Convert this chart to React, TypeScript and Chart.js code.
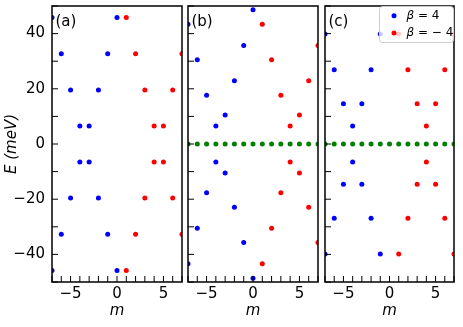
import React, { useEffect, useRef } from "react";
import { Chart, registerables } from "chart.js";
Chart.register(...registerables);

// ---------- DATA ----------
// Panel (a)
const aBlueM = [-7, -6, -5, -4, -3, -2, -1, 0, -7, -6, -5, -4, -3, -2, -1, 0];
const aBlueE = [45.8, 32.7, 19.6, 6.5, 6.5, 19.6, 32.7, 45.8, -45.8, -32.7, -19.6, -6.5, -6.5, -19.6, -32.7, -45.8];
const aRedM = [1, 2, 3, 4, 5, 6, 7, 1, 2, 3, 4, 5, 6, 7];
const aRedE = [45.8, 32.7, 19.6, 6.5, 6.5, 19.6, 32.7, -45.8, -32.7, -19.6, -6.5, -6.5, -19.6, -32.7];

// Panel (b)
const bBlueM = [-7, -6, -5, -4, -3, -2, -1, 0, -7, -6, -5, -4, -3, -2, -1, 0];
const bBlueE = [43.4, 30.5, 17.7, 6.5, 10.5, 22.9, 35.7, 48.6, -43.4, -30.5, -17.7, -6.5, -10.5, -22.9, -35.7, -48.6];
const bRedM = [1, 2, 3, 4, 5, 6, 7, 1, 2, 3, 4, 5, 6, 7];
const bRedE = [43.4, 30.5, 17.7, 6.5, 10.5, 22.9, 35.7, -43.4, -30.5, -17.7, -6.5, -10.5, -22.9, -35.7];
const bGreenM = [-7, -6, -5, -4, -3, -2, -1, 0, 1, 2, 3, 4, 5, 6, 7];
const bGreenE = [0, 0, 0, 0, 0, 0, 0, 0, 0, 0, 0, 0, 0, 0, 0];

// Panel (c)
const cBlueM = [-7, -6, -5, -4, -3, -2, -1, -7, -6, -5, -4, -3, -2, -1];
const cBlueE = [39.9, 26.9, 14.6, 6.5, 14.6, 26.9, 39.9, -39.9, -26.9, -14.6, -6.5, -14.6, -26.9, -39.9];
const cRedM = [1, 2, 3, 4, 5, 6, 7, 1, 2, 3, 4, 5, 6, 7];
const cRedE = [39.9, 26.9, 14.6, 6.5, 14.6, 26.9, 39.9, -39.9, -26.9, -14.6, -6.5, -14.6, -26.9, -39.9];
const cGreenM = [-7, -6, -5, -4, -3, -2, -1, 0, 1, 2, 3, 4, 5, 6, 7];
const cGreenE = [0, 0, 0, 0, 0, 0, 0, 0, 0, 0, 0, 0, 0, 0, 0];

const panelLabels = ["(a)", "(b)", "(c)"];
const legendLabels = ["4", "\u2212 4"];
const xTitle = "m";
const yTitle = "E (meV)";

// ---------- HELPERS ----------
const FONT = '"DejaVu Sans", sans-serif';
const BLUE = "#0000ff";
const RED = "#ff0000";
const GREEN = "#008000";

const pts = (ms: number[], es: number[]) => ms.map((m, i) => ({ x: m, y: es[i] }));
const fmt = (v: number) => (v < 0 ? "\u2212" + Math.abs(v) : String(v));

function ds(ms: number[], es: number[], color: string) {
  return {
    data: pts(ms, es),
    showLine: false,
    pointRadius: 2.5,
    pointHoverRadius: 2.5,
    pointBorderWidth: 0,
    pointBackgroundColor: color,
    pointBorderColor: color,
    clip: 0,
  };
}

function zeroPad(s: any) {
  s.paddingTop = 0;
  s.paddingBottom = 0;
  s.paddingLeft = 0;
  s.paddingRight = 0;
}

function makePlugin(label: string, withLegend: boolean) {
  return {
    id: "frame_" + label,
    afterDraw(chart: any) {
      const { ctx, chartArea: ca, scales } = chart;
      ctx.save();
      // inward ticks
      ctx.strokeStyle = "#000";
      ctx.lineWidth = 1;
      scales.x.ticks.forEach((t: any) => {
        const px = scales.x.getPixelForValue(t.value);
        ctx.beginPath();
        ctx.moveTo(px, ca.bottom);
        ctx.lineTo(px, ca.bottom - 6);
        ctx.stroke();
      });
      scales.y.ticks.forEach((t: any) => {
        const py = scales.y.getPixelForValue(t.value);
        ctx.beginPath();
        ctx.moveTo(ca.left, py);
        ctx.lineTo(ca.left + 6, py);
        ctx.stroke();
      });
      // frame
      ctx.lineWidth = 1.5;
      ctx.strokeRect(ca.left, ca.top, ca.right - ca.left, ca.bottom - ca.top);
      // panel label
      ctx.fillStyle = "#000";
      ctx.font = "15px " + FONT;
      ctx.textBaseline = "alphabetic";
      ctx.textAlign = "left";
      ctx.fillText(label, ca.left + 3.5, ca.top + 20);

      if (withLegend) {
        const w = 75, h = 37;
        const lx = ca.right - w, ly = ca.top;
        ctx.beginPath();
        if ((ctx as any).roundRect) (ctx as any).roundRect(lx + 0.5, ly + 0.5, w - 1, h - 1, 3);
        else ctx.rect(lx + 0.5, ly + 0.5, w - 1, h - 1);
        ctx.fillStyle = "rgba(255,255,255,0.8)";
        ctx.fill();
        ctx.strokeStyle = "#cccccc";
        ctx.lineWidth = 1;
        ctx.stroke();
        const rows = [ly + 9.7, ly + 27];
        const cols = [BLUE, RED];
        rows.forEach((ry, i) => {
          ctx.beginPath();
          ctx.arc(lx + 15, ry, 2.5, 0, Math.PI * 2);
          ctx.fillStyle = cols[i];
          ctx.fill();
          ctx.fillStyle = "#000";
          ctx.textBaseline = "middle";
          let tx = lx + 27.5;
          ctx.font = "italic 12px " + FONT;
          ctx.fillText("\u03b2", tx, ry);
          tx += ctx.measureText("\u03b2").width;
          ctx.font = "12px " + FONT;
          ctx.fillText(" = " + legendLabels[i], tx, ry);
        });
      }
      ctx.restore();
    },
  };
}

function makeConfig(datasets: any[], label: string, showY: boolean, yW: number, padR: number, withLegend: boolean) {
  return {
    type: "scatter",
    data: { datasets },
    options: {
      animation: false,
      responsive: false,
      maintainAspectRatio: false,
      events: [],
      layout: { padding: { top: 6, right: padR, left: 0, bottom: 0 } },
      plugins: { legend: { display: false }, tooltip: { enabled: false } },
      scales: {
        x: {
          type: "linear",
          min: -7,
          max: 7,
          ticks: {
            stepSize: 1,
            autoSkip: false,
            maxRotation: 0,
            minRotation: 0,
            padding: 3,
            color: "#000",
            font: { family: FONT, size: 15 },
            callback: (v: any) => (Number(v) % 5 === 0 ? fmt(Number(v)) : ""),
          },
          grid: { display: false, drawTicks: false },
          border: { display: false },
          title: {
            display: true,
            text: xTitle,
            color: "#000",
            font: { family: FONT, size: 15, style: "italic" },
            padding: { top: 0, bottom: 7 },
          },
          afterFit: (s: any) => {
            s.height = 45;
            zeroPad(s);
          },
        },
        y: {
          type: "linear",
          min: -50,
          max: 50,
          ticks: {
            display: showY,
            stepSize: 10,
            autoSkip: false,
            padding: 7,
            color: "#000",
            font: { family: FONT, size: 15 },
            callback: (v: any) => (Number(v) % 20 === 0 ? fmt(Number(v)) : ""),
          },
          grid: { display: false, drawTicks: false },
          border: { display: false },
          title: {
            display: showY,
            text: yTitle,
            color: "#000",
            font: { family: FONT, size: 15, style: "italic" },
            padding: { top: 3.5, bottom: 0 },
          },
          afterFit: (s: any) => {
            s.width = yW;
            zeroPad(s);
          },
        },
      },
    },
    plugins: [makePlugin(label, withLegend)],
  };
}

function Panel(props: { config: any; left: number; width: number }) {
  const ref = useRef<HTMLCanvasElement | null>(null);
  useEffect(() => {
    if (!ref.current) return;
    const chart = new Chart(ref.current, props.config);
    return () => chart.destroy();
  }, []);
  return (
    <canvas
      ref={ref}
      width={props.width}
      height={327}
      style={{ position: "absolute", left: props.left, top: 0, width: props.width, height: 327, display: "block" }}
    />
  );
}

export default function App() {
  const cfgA = makeConfig([ds(aBlueM, aBlueE, BLUE), ds(aRedM, aRedE, RED)], panelLabels[0], true, 52, 3, false);
  const cfgB = makeConfig(
    [ds(bBlueM, bBlueE, BLUE), ds(bRedM, bRedE, RED), ds(bGreenM, bGreenE, GREEN)],
    panelLabels[1], false, 3, 3, false
  );
  const cfgC = makeConfig(
    [ds(cBlueM, cBlueE, BLUE), ds(cRedM, cRedE, RED), ds(cGreenM, cGreenE, GREEN)],
    panelLabels[2], false, 4, 9, true
  );
  return (
    <div style={{ position: "fixed", left: 0, top: 0, width: 463, height: 327, background: "#fff", overflow: "hidden" }}>
      <Panel config={cfgA} left={0} width={185} />
      <Panel config={cfgB} left={185} width={136} />
      <Panel config={cfgC} left={321} width={142} />
    </div>
  );
}
